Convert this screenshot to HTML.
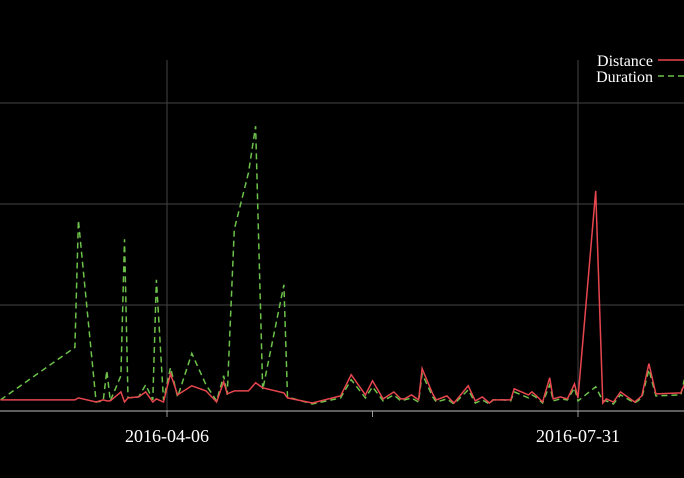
<!DOCTYPE html>
<html><head><meta charset="utf-8"><style>
html,body{margin:0;padding:0;background:#000;}
svg{display:block;font-family:"Liberation Serif",serif;}
</style></head><body>
<svg id="chart" width="684" height="478">
<defs><clipPath id="clip"><rect x="0" y="40" width="684" height="372"/></clipPath></defs>
<g id="grid"></g>
<g id="axis"></g>
<g id="series" clip-path="url(#clip)"></g>
<g id="legend">
  <text x="653" y="66" fill="#fff" font-size="16" text-anchor="end">Distance</text>
  <line x1="658" y1="60" x2="684" y2="60" stroke="#e8464f" stroke-width="1.5"/>
  <text x="653" y="82" fill="#fff" font-size="16" text-anchor="end">Duration</text>
  <line x1="658" y1="76" x2="684" y2="76" stroke="#6cc24a" stroke-width="1.5" stroke-dasharray="6,4"/>
</g>
</svg>
<script>
// days relative to 2016-04-06
const days = [-47,-26,-25,-20,-18,-17,-16,-13,-12,-11,-8,-6,-4,-3,-1,1,3,7,11,14,16,17,19,23,25,27,33,34,41,49,52,56,58,61,64,66,67,69,71,72,75,76,79,81,85,87,89,91,92,95,97,98,102,103,104,106,108,109,111,113,115,116,121,123,124,126,128,132,134,136,138,145,146];
const distance = [6,6,8,4,6,5,5,14,4,8,9,14,4,7,4,32,11,20,15,4,24,12,15,15,23,18,13,8,3,10,31,11,25,7,14,7,7,11,6,37,12,6,10,3,20,5,9,3,6,6,6,17,11,14,11,4,28,7,9,7,22,8,213,3,7,4,14,4,10,42,12,13,21];
const duration = [6,58,184,4,5,35,5,30,165,8,9,21,6,125,6,38,9,52,21,5,30,11,175,231,277,16,120,9,2,8,26,8,19,5,11,5,6,8,4,32,9,4,7,2,16,3,6,2,6,6,5,14,8,11,9,3,21,5,7,6,18,5,19,5,5,2,11,3,8,36,10,11,26];
const tickDays = [0,58,116];
const tickLabels = ["2016-04-06","","2016-07-31"];
const gridValues = [100,200,300];

const NS = "http://www.w3.org/2000/svg";
const xs = d => 167 + d * (411/116);
const ys = v => 406 - v * 1.01;
function mk(tag, attrs, parent){const e=document.createElementNS(NS,tag);for(const k in attrs)e.setAttribute(k,attrs[k]);parent.appendChild(e);return e;}
const grid=document.getElementById('grid'), axis=document.getElementById('axis'), series=document.getElementById('series');
gridValues.forEach(v=>{
  const l=mk('line',{x1:0,x2:684,y1:ys(v),y2:ys(v),stroke:'#444','stroke-width':1},grid);
  
  
});
tickDays.forEach((d,i)=>{
  if(tickLabels[i]){
    const g=mk('line',{x1:xs(d),x2:xs(d),y1:60,y2:411,stroke:'#444','stroke-width':1},grid);
    
    
  }
  const t=mk('line',{x1:xs(d),x2:xs(d),y1:411,y2:417,stroke:'#999','stroke-width':1},axis);
  
  
  const tx=mk('text',{x:xs(d),y:442,fill:'#fff','font-size':18,'text-anchor':'middle'},axis);
  tx.textContent=tickLabels[i];
  
  
});
const al=mk('line',{x1:0,x2:684,y1:411,y2:411,stroke:'#bbb','stroke-width':1},axis);


function path(vals){return days.map((d,i)=>(i?'L':'M')+xs(d).toFixed(1)+','+ys(vals[i]).toFixed(1)).join('');}
const pd=mk('path',{d:path(duration),fill:'none',stroke:'#6cc24a','stroke-width':1.5,'stroke-dasharray':'6,4'},series);


const pr=mk('path',{d:path(distance),fill:'none',stroke:'#e8464f','stroke-width':1.5},series);


</script>
</body></html>
